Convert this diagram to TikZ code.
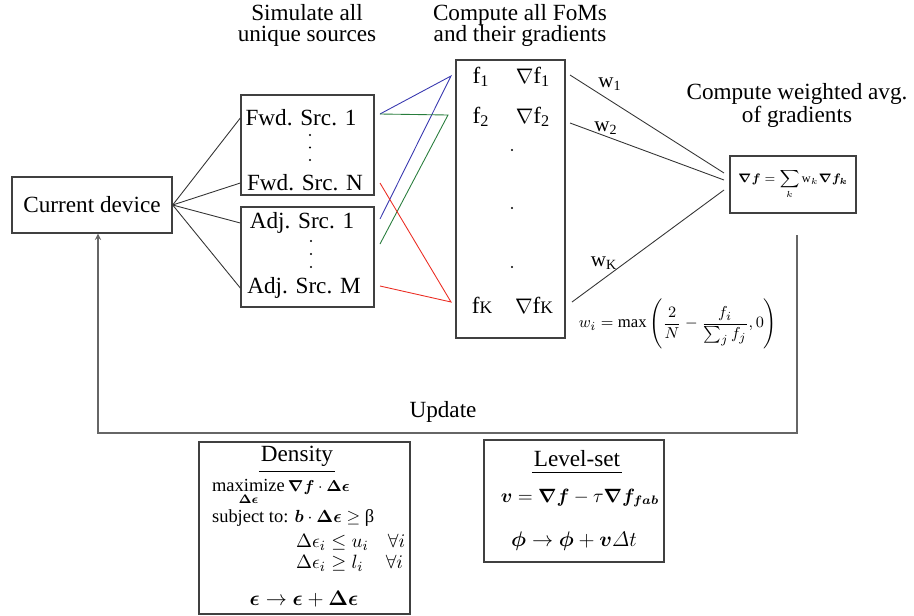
\documentclass[tikz,border=0pt]{standalone}
\usepackage{amsmath,amssymb,bm}
\usepackage{fontspec}
\setmainfont{Liberation Serif}
\usetikzlibrary{arrows,positioning}

\definecolor{srcblue}{RGB}{55,55,175}
\definecolor{srcgreen}{RGB}{40,125,60}
\definecolor{srcred}{RGB}{235,45,35}

\begin{document}
\begin{tikzpicture}[
    x=0.02cm, y=-0.02cm,
    txt/.style={font=\fontsize{13.2}{12}\selectfont, inner sep=1pt},
    block/.style={rectangle, draw=black!75, line width=0.8pt, inner sep=0pt},
    wire/.style={black!80, line width=0.5pt},
    loopwire/.style={black!60, line width=0.6pt, ->, >=stealth},
]
\useasboundingbox (0,0) rectangle (914,616);

% Headings
\node[txt, align=center] (simhead) at (307,25) {Simulate all\\unique sources};
\node[txt, align=center] (fomhead) at (520,25) {Compute all FoMs\\and their gradients};
\node[txt, align=center] (avghead) at (797,105) {Compute weighted avg.\\of gradients};

% Current device and the source boxes
\node[block, txt, minimum width=3.2cm, minimum height=1.12cm] (cur) at (92,205) {Current device};
\node[block, minimum width=2.66cm, minimum height=2cm] (fwdbox) at (307.5,145) {};
\node[block, minimum width=2.66cm, minimum height=2cm] (adjbox) at (307.5,257) {};

\node[txt] (fwd1) at (301,118) {Fwd. Src. 1};
\node[txt] (fwdN) at (305,183) {Fwd. Src. N};
\node[txt] (adj1) at (302,223) {Adj. Src. 1};
\node[txt] (adjM) at (304,288) {Adj. Src. M};
\foreach \y in {135,147.5,160} \fill (310,\y) circle (0.7pt);
\foreach \y in {241,254,267} \fill (311,\y) circle (0.7pt);

% FoM box
\node[block, line width=1.1pt, minimum width=2.18cm, minimum height=5.56cm] (fombox) at (510.5,199) {};
\node[txt] (f1) at (481,77) {f\textsubscript{1}};
\node[txt] (gf1) at (533,77) {$\nabla$f\textsubscript{1}};
\node[txt] (f2) at (481,117) {f\textsubscript{2}};
\node[txt] (gf2) at (533,117) {$\nabla$f\textsubscript{2}};
\node[txt] (fK) at (482,305) {f{\fontsize{10}{10}\selectfont K}};
\node[txt] (gfK) at (534,305) {$\nabla$f{\fontsize{10}{10}\selectfont K}};
\foreach \y in {150,208,267} \fill (512,\y) circle (0.7pt);

% Weighted average box
\node[block, minimum width=2.52cm, minimum height=1.14cm] (avgbox) at (793,184.5)
    {\fontsize{7}{8}\selectfont $\displaystyle \bm{\nabla}\bm{f} = \sum_{k} \mathrm{w}_{k}\bm{\nabla}\bm{f}_{\bm{k}}$};
\node[txt, font=\fontsize{9.5}{10}\selectfont] (wform) at (678,324)
    {$w_i = \max\left(\dfrac{2}{N} - \dfrac{f_i}{\sum_j f_j}, 0\right)$};

% Current device to sources
\draw[wire] (cur.east) -- (fwdbox.west |- fwd1);
\draw[wire] (cur.east) -- (fwdbox.west |- fwdN);
\draw[wire] (cur.east) -- (adjbox.west |- adj1);
\draw[wire] (cur.east) -- (adjbox.west |- adjM);

% Sources to FoMs
\coordinate (o1) at (380,114);
\coordinate (oN) at (380,183);
\coordinate (oa1) at (380,219);
\coordinate (oa2) at (380,244);
\coordinate (oM) at (380,286);
\coordinate (pb) at (451,76);
\coordinate (pg) at (448,115);
\coordinate (pr) at (451,302);
\draw[srcblue, line width=0.5pt] (o1) -- (pb) -- (oa1);
\draw[srcgreen, line width=0.5pt] (o1) -- (pg) -- (oa2);
\draw[srcred, line width=0.5pt] (oN) -- (pr) -- (oM);

% FoMs to weighted average
\coordinate (wo1) at (570,75);
\coordinate (wo2) at (570,123);
\coordinate (woK) at (572,302);
\coordinate (wi1) at (724,173);
\coordinate (wi2) at (724,180);
\coordinate (wiK) at (724,190);
\draw[wire] (wo1) -- (wi1);
\draw[wire] (wo2) -- (wi2);
\draw[wire] (woK) -- (wiK);
\node[txt, font=\fontsize{12}{12}\selectfont] (w1) at (610,84) {w\textsubscript{1}};
\node[txt, font=\fontsize{12}{12}\selectfont] (w2) at (606,128) {w\textsubscript{2}};
\node[txt, font=\fontsize{12}{12}\selectfont] (wK) at (604,263) {w\textsubscript{K}};

% Update loop
\coordinate (loopstart) at (797,235);
\coordinate (loopL) at (98,433);
\draw[loopwire] (loopstart) |- (loopL) -- (loopL |- cur.south);
\node[txt] (update) at (443,412) {Update};

% Density update
\node[block, minimum width=4.22cm, minimum height=3.44cm] (denbox) at (304.5,528) {};
\node[txt] (dentitle) at (297,456) {Density};
\draw[line width=0.4pt] ([yshift=-1.5pt]dentitle.south west) -- ([yshift=-1.5pt]dentitle.south east);
\node[txt, anchor=west, font=\fontsize{10.5}{11}\selectfont] (maxline) at (210,492)
    {$\underset{\bm{\Delta}\bm{\epsilon}}{\text{maximize}}$\,{\fontsize{9}{9}\selectfont$\bm{\nabla}\bm{f}\cdot\bm{\Delta}\bm{\epsilon}$}};
\node[txt, anchor=west, font=\fontsize{10.5}{11}\selectfont] (subjline) at (210,518)
    {subject to: {\fontsize{10}{10}\selectfont$\bm{b}\cdot\bm{\Delta}\bm{\epsilon} \geq$} β};
\node[txt, anchor=west, font=\fontsize{11}{11}\selectfont] (upline) at (294,542)
    {$\Delta\epsilon_i \leq u_i \quad \forall i$};
\node[txt, anchor=west, font=\fontsize{11}{11}\selectfont] (lowline) at (294,563)
    {$\Delta\epsilon_i \geq l_i \quad\, \forall i$};
\node[txt, font=\fontsize{12}{12}\selectfont] (epsline) at (304,599)
    {$\bm{\epsilon} \rightarrow \bm{\epsilon} + \bm{\Delta}\bm{\epsilon}$};

% Level-set update
\node[block, minimum width=3.6cm, minimum height=2.44cm] (lsbox) at (574,501) {};
\node[txt] (lstitle) at (577,459) {Level-set};
\draw[line width=0.4pt] ([yshift=-1.5pt]lstitle.south west) -- ([yshift=-1.5pt]lstitle.south east);
\node[txt, font=\fontsize{10.5}{11}\selectfont] (vline) at (580,498)
    {$\bm{v} = \bm{\nabla}\bm{f} - \tau\bm{\nabla}\bm{f}_{\bm{fab}}$};
\node[txt, font=\fontsize{12.5}{13}\selectfont] (philine) at (574,541)
    {$\bm{\phi} \rightarrow \bm{\phi} + \bm{v}\varDelta t$};

\end{tikzpicture}
\end{document}
